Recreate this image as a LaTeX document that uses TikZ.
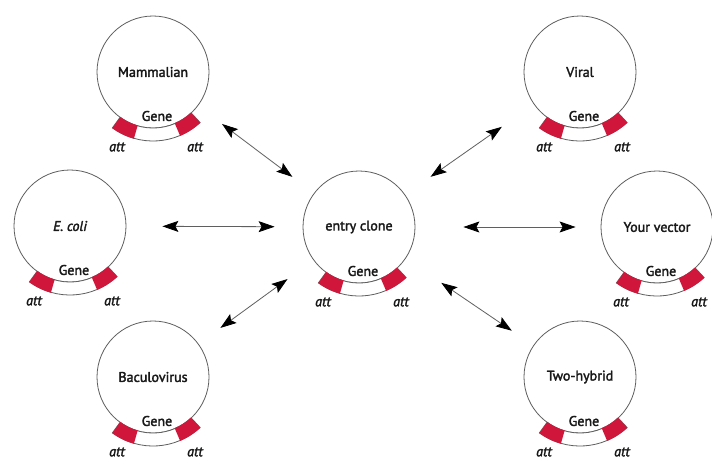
\documentclass[tikz,border=0pt]{standalone}
\usepackage{fontspec}
\setmainfont{PT Sans}[FakeBold=2.2]
\usetikzlibrary{arrows.meta}
\definecolor{attred}{RGB}{208,22,58}
\definecolor{linegray}{RGB}{95,95,95}
\definecolor{textdark}{RGB}{25,25,25}
\tikzset{
  plasmidcircle/.style={circle, draw=linegray, line width=0.8pt, minimum size=112pt, inner sep=0pt, font=\fontsize{14}{16}\selectfont, text=textdark},
  bandline/.style={draw=linegray, line width=0.8pt},
  genetext/.style={font=\fontsize{14}{16}\selectfont, text=textdark, inner sep=0pt},
  atttext/.style={font=\fontsize{14}{16}\selectfont\itshape, text=textdark, inner sep=0pt},
  conn/.style={{Stealth[length=16pt,width=11pt,inset=3pt,color=black]}-{Stealth[length=16pt,width=11pt,inset=3pt,color=black]}, draw=linegray, line width=0.8pt}
}
\newcommand\plasmid[4]{%
  \node[plasmidcircle] (#1) at (#2,-#3) {#4};
  \filldraw[bandline, fill=white] ([shift={(234:56)}]#1.center) arc[start angle=234,end angle=313,radius=56] -- ([shift={(313:69)}]#1.center) arc[start angle=313,end angle=234,radius=69] -- cycle;
  \fill[attred] ([shift={(234:55.6)}]#1.center) arc[start angle=234,end angle=254,radius=55.6] -- ([shift={(254:69.4)}]#1.center) arc[start angle=254,end angle=234,radius=69.4] -- cycle;
  \fill[attred] ([shift={(293:55.6)}]#1.center) arc[start angle=293,end angle=313,radius=55.6] -- ([shift={(313:69.4)}]#1.center) arc[start angle=313,end angle=293,radius=69.4] -- cycle;
  \node[genetext] (#1gene) at ([shift={(4,-44)}]#1.center) {Gene};
  \node[atttext] (#1attl) at ([shift={(-36,-75)}]#1.center) {att};
  \node[atttext] (#1attr) at ([shift={(42,-75)}]#1.center) {att};
}
\begin{document}
\begin{tikzpicture}[x=1pt,y=1pt]
  \clip (0,0) rectangle (712,-464);
  \fill[white] (0,0) rectangle (712,-464);
  \plasmid{mam}{153}{72}{Mammalian}
  \plasmid{viral}{580}{72}{Viral}
  \plasmid{ecoli}{70}{226}{\itshape E. coli}
  \plasmid{entry}{359}{227}{entry clone}
  \plasmid{yours}{657}{227}{Your vector}
  \plasmid{bac}{153}{377}{Baculovirus}
  \plasmid{two}{580}{377}{Two-hybrid}
  \draw[conn, shorten <=30pt, shorten >=27pt] (mam) -- (entry);
  \draw[conn, shorten <=36pt, shorten >=28pt] (ecoli) -- (entry);
  \draw[conn, shorten <=27pt, shorten >=32pt] (bac) -- (entry);
  \draw[conn, shorten <=39pt, shorten >=31pt] (viral) -- (entry);
  \draw[conn, shorten <=48pt, shorten >=25pt] (entry) -- (yours);
  \draw[conn, shorten <=43pt, shorten >=26pt] (entry) -- (two);
\end{tikzpicture}
\end{document}
